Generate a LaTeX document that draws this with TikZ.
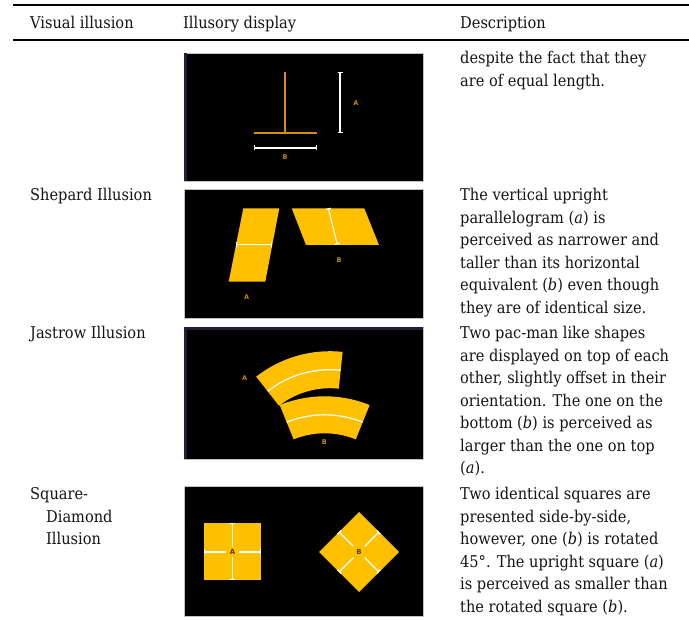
\documentclass[tikz,border=0pt]{standalone}
\usepackage{fontspec}
\setmainfont{DejaVu Serif Condensed}
\setsansfont{DejaVu Sans}
\usetikzlibrary{arrows.meta}
\definecolor{yel}{HTML}{FFC000}
\definecolor{tor}{HTML}{D4900C}
\definecolor{labor}{HTML}{C88A00}
\definecolor{labdk}{HTML}{5C4500}
\definecolor{stripe}{HTML}{2A1A3A}
\definecolor{bord}{HTML}{C4C4C4}
\definecolor{ink}{HTML}{141414}
\tikzset{
  txt/.style={anchor=base west, inner sep=0pt, text=ink, font=\fontsize{16.2}{19}\selectfont},
  lab/.style={inner sep=0pt, text=labor, font=\sffamily\bfseries\fontsize{6.5}{7}\selectfont},
  labd/.style={inner sep=0pt, text=labdk, font=\sffamily\bfseries\fontsize{7}{7}\selectfont},
  panel/.style={fill=black, draw=bord, line width=0.6pt},
  wbar/.style={draw=white, line width=1.1pt, {Bar[width=5pt]}-{Bar[width=5pt]}},
  wbars/.style={draw=white, line width=1.1pt, {Bar[width=5pt]}-},
  wline/.style={draw=white, line width=1.2pt},
  tline/.style={draw=tor, line width=1.6pt},
  rulethick/.style={draw=black, line width=1.6pt},
}
\begin{document}
\begin{tikzpicture}[x=1pt,y=1pt]
\useasboundingbox (0,0) rectangle (689,-620);
\fill[white] (0,0) rectangle (689,-620);

% rules
\coordinate (r1a) at (13,-5);  \coordinate (r1b) at (689,-5);
\coordinate (r2a) at (13,-40); \coordinate (r2b) at (689,-40);
\draw[rulethick] (r1a) -- (r1b);
\draw[rulethick] (r2a) -- (r2b);

% header
\node[txt] (h1) at (30,-29) {Visual illusion};
\node[txt] (h2) at (183,-29) {Illusory display};
\node[txt] (h3) at (460,-29) {Description};

% ---------- panel 1 ----------
\draw[panel] (184,-53) rectangle (423.3,-181);
\fill[stripe] (184.3,-53.3) rectangle (187,-180.7);
\coordinate (t1) at (285,-72); \coordinate (t2) at (285,-133);
\coordinate (t3) at (254,-133); \coordinate (t4) at (317,-133);
\draw[tline] (t1) -- (t2);
\draw[tline] (t3) -- (t4);
\coordinate (ba1) at (340,-72); \coordinate (ba2) at (340,-133);
\draw[wbar] (ba1) -- (ba2);
\node[lab] (la1) at (356,-103) {A};
\coordinate (bb1) at (254,-148); \coordinate (bb2) at (317,-148);
\draw[wbar] (bb1) -- (bb2);
\node[lab] (lb1) at (285,-157) {B};

% ---------- panel 2 (Shepard) ----------
\draw[panel] (184,-189.3) rectangle (423.3,-318);
\fill[yel] (243.3,-208.3) -- (279.3,-208.3) -- (265.3,-281.7) -- (228.7,-281.7) -- cycle;
\fill[yel] (291.7,-208.3) -- (364.3,-208.3) -- (379,-245) -- (306,-245) -- cycle;
\coordinate (sa1) at (235.7,-244.3); \coordinate (sa2) at (272.3,-244.3);
\draw[wbar] (sa1) -- (sa2);
\coordinate (sb1) at (328.3,-208.3); \coordinate (sb2) at (337.3,-244.3);
\draw[wbar] (sb1) -- (sb2);
\node[lab] (la2) at (246.7,-296.7) {A};
\node[lab] (lb2) at (339,-260.3) {B};

% ---------- panel 3 (Jastrow) ----------
\draw[panel] (184,-327) rectangle (423.3,-459);
\fill[stripe] (184.3,-327.3) rectangle (187,-458.7);
\fill[stripe] (184.3,-327.3) rectangle (423,-330);
\coordinate (ca) at (330.1,-471.2);
\coordinate (cb) at (324.7,-516.3);
\fill[yel] ([shift={(84:120)}]ca) arc[start angle=84,end angle=128,radius=120]
  -- ([shift={(128:83)}]ca) arc[start angle=128,end angle=84,radius=83] -- cycle;
\draw[wline] ([shift={(84:101.5)}]ca) arc[start angle=84,end angle=128,radius=101.5];
\fill[yel] ([shift={(68:120)}]cb) arc[start angle=68,end angle=112,radius=120]
  -- ([shift={(112:83)}]cb) arc[start angle=112,end angle=68,radius=83] -- cycle;
\draw[wline] ([shift={(68:101.5)}]cb) arc[start angle=68,end angle=112,radius=101.5];
\node[lab] (la3) at (244.7,-378) {A};
\node[lab] (lb3) at (324.3,-442.3) {B};

% ---------- panel 4 (Square-Diamond) ----------
\draw[panel] (184,-486) rectangle (423.3,-616);
\fill[yel] (204,-523) rectangle (261,-580);
\node[labd] (la4) at (232.5,-552) {A};
\draw[wbars] (232.5,-523) -- (232.5,-546.5);
\draw[wbars] (232.5,-580) -- (232.5,-557.5);
\draw[wbars] (204,-552) -- (225.7,-552);
\draw[wbars] (261,-552) -- (239.3,-552);
\coordinate (cd) at (359,-552);
\fill[yel] ([shift={(90:40)}]cd) -- ([shift={(0:40)}]cd) -- ([shift={(-90:40)}]cd) -- ([shift={(180:40)}]cd) -- cycle;
\node[labd] (lb4) at (cd) {B};
\foreach \a in {45,135,225,315}{
  \draw[wbars] ([shift={(\a:28.3)}]cd) -- ([shift={(\a:8)}]cd);
}

% ---------- left column ----------
\node[txt] (n1) at (30,-201) {Shepard Illusion};
\node[txt] (n2) at (30,-339) {Jastrow Illusion};
\node[txt] (n3) at (30,-500) {Square-};
\node[txt] (n4) at (46,-522.5) {Diamond};
\node[txt] (n5) at (46,-545) {Illusion};

% ---------- descriptions ----------
\node[txt] (d01) at (460,-64) {despite the fact that they};
\node[txt] (d02) at (460,-86.5) {are of equal length.};

\node[txt] (d11) at (460,-201) {The vertical upright};
\node[txt] (d12) at (460,-223.5) {parallelogram (\textit{a}) is};
\node[txt] (d13) at (460,-246) {perceived as narrower and};
\node[txt] (d14) at (460,-268.5) {taller than its horizontal};
\node[txt] (d15) at (460,-291) {equivalent (\textit{b}) even though};
\node[txt] (d16) at (460,-313.5) {they are of identical size.};

\node[txt] (d21) at (460,-339) {Two pac-man like shapes};
\node[txt] (d22) at (460,-361.5) {are displayed on top of each};
\node[txt] (d23) at (460,-384) {other, slightly offset in their};
\node[txt] (d24) at (460,-406.5) {orientation. The one on the};
\node[txt] (d25) at (460,-429) {bottom (\textit{b}) is perceived as};
\node[txt] (d26) at (460,-451.5) {larger than the one on top};
\node[txt] (d27) at (460,-474) {(\textit{a}).};

\node[txt] (d31) at (460,-500) {Two identical squares are};
\node[txt] (d32) at (460,-522.5) {presented side-by-side,};
\node[txt] (d33) at (460,-545) {however, one (\textit{b}) is rotated};
\node[txt] (d34) at (460,-567.5) {45°. The upright square (\textit{a})};
\node[txt] (d35) at (460,-590) {is perceived as smaller than};
\node[txt] (d36) at (460,-612.5) {the rotated square (\textit{b}).};
\end{tikzpicture}
\end{document}
